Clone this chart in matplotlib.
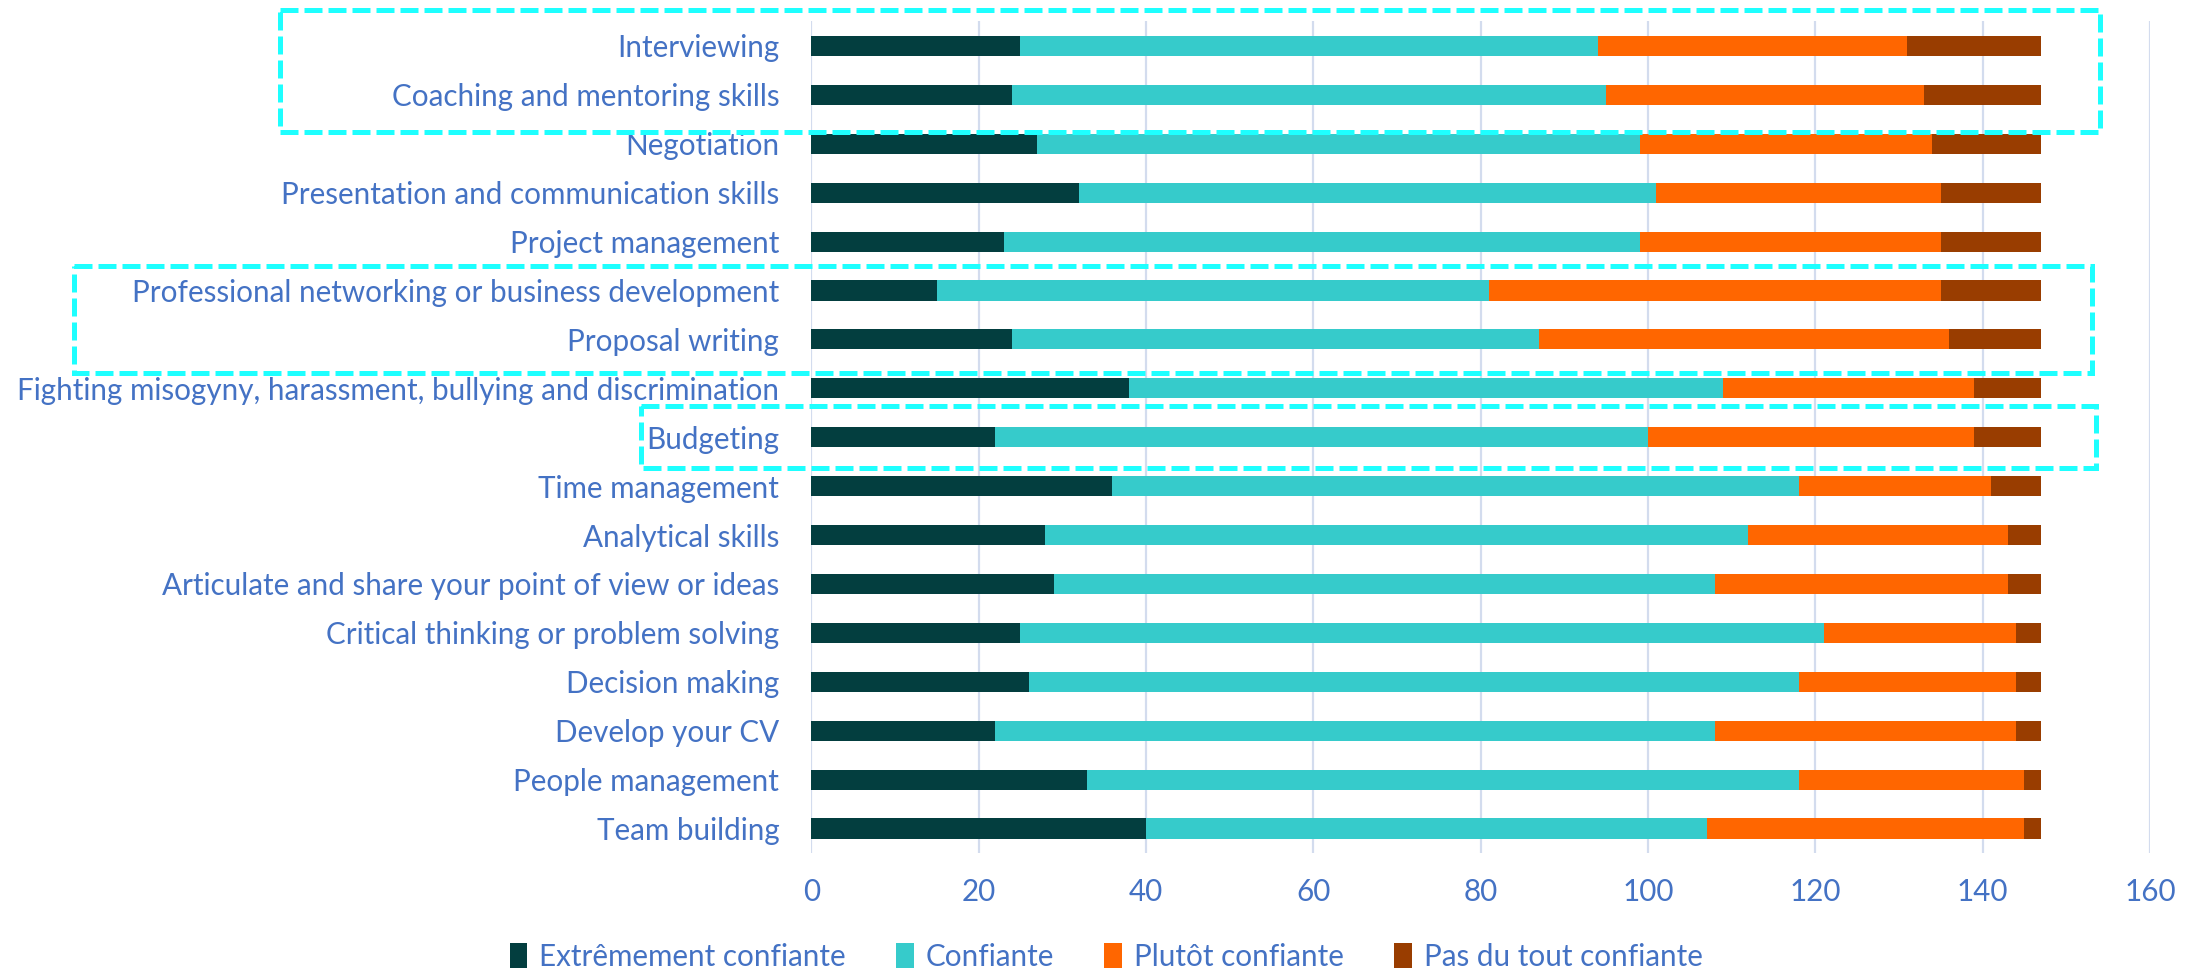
import numpy as np
import matplotlib
matplotlib.use("Agg")
import matplotlib.pyplot as plt
from matplotlib.patches import Patch, Rectangle
from matplotlib.transforms import blended_transform_factory

plt.rcParams['font.family'] = ['Lato', 'DejaVu Sans']

skills = [
    "Interviewing",
    "Coaching and mentoring skills",
    "Negotiation",
    "Presentation and communication skills",
    "Project management",
    "Professional networking or business development",
    "Proposal writing",
    "Fighting misogyny, harassment, bullying and discrimination",
    "Budgeting",
    "Time management",
    "Analytical skills",
    "Articulate and share your point of view or ideas",
    "Critical thinking or problem solving",
    "Decision making",
    "Develop your CV",
    "People management",
    "Team building",
]

extremement = [25, 24, 27, 32, 23, 15, 24, 38, 22, 36, 28, 29, 25, 26, 22, 33, 40]
confiante = [69, 71, 72, 69, 76, 66, 63, 71, 78, 82, 84, 79, 96, 92, 86, 85, 67]
plutot = [37, 38, 35, 34, 36, 54, 49, 30, 39, 23, 31, 35, 23, 26, 36, 27, 38]
pas_du_tout = [16, 14, 13, 12, 12, 12, 11, 8, 8, 6, 4, 4, 3, 3, 3, 2, 2]

series_names = ["Extrêmement confiante", "Confiante", "Plutôt confiante", "Pas du tout confiante"]
series_colors = ["#033E3F", "#36CBCB", "#FF6600", "#993D00"]

label_color = "#4472C4"
grid_color = "#D3DCEE"
fs = 21.3

fig = plt.figure(figsize=(21.99, 9.72), dpi=100)
ax = fig.add_axes([0.3689, 0.1225, 0.6088, 0.8554])

y = np.arange(len(skills))
left = np.zeros(len(skills))
for vals, name, col in zip([extremement, confiante, plutot, pas_du_tout], series_names, series_colors):
    ax.barh(y, vals, left=left, height=0.41, color=col, label=name, zorder=3)
    left = left + np.array(vals)

ax.set_xlim(0, 160)
ax.set_ylim(len(skills) - 0.5, -0.5)
ax.set_xticks(np.arange(0, 161, 20))
ax.set_yticks(y)
ax.set_yticklabels(skills)
ax.tick_params(axis='y', length=0, pad=23, labelsize=fs, labelcolor=label_color)
ax.tick_params(axis='x', length=0, pad=18, labelsize=fs, labelcolor=label_color)
ax.grid(axis='x', color=grid_color, linewidth=1.6, zorder=0)
for s in ax.spines.values():
    s.set_visible(False)

# dashed cyan boxes around the highlighted rows (x in figure fraction, y in rows)
tr = blended_transform_factory(fig.transFigure, ax.transData)
boxes = [(0.1273, 0.955, -0.74, 1.76), (0.0337, 0.9513, 4.5, 6.69), (0.2915, 0.9532, 7.36, 8.63)]
for x0, x1, y0, y1 in boxes:
    ax.add_patch(Rectangle((x0, y0), x1 - x0, y1 - y0, transform=tr, fill=False,
                           edgecolor="#1EFFFF", linewidth=3.6, linestyle=(0, (3.6, 1.2)),
                           clip_on=False, zorder=5))

handles = [Patch(facecolor=c, label=n) for n, c in zip(series_names, series_colors)]
leg = fig.legend(handles=handles, loc='center', bbox_to_anchor=(0.503, 0.0155), ncol=4,
                 frameon=False, fontsize=fs, handlelength=0.6, handleheight=0.9,
                 handletextpad=0.4, columnspacing=1.7)
for t in leg.get_texts():
    t.set_color(label_color)

fig.savefig("out.png", dpi=100)
